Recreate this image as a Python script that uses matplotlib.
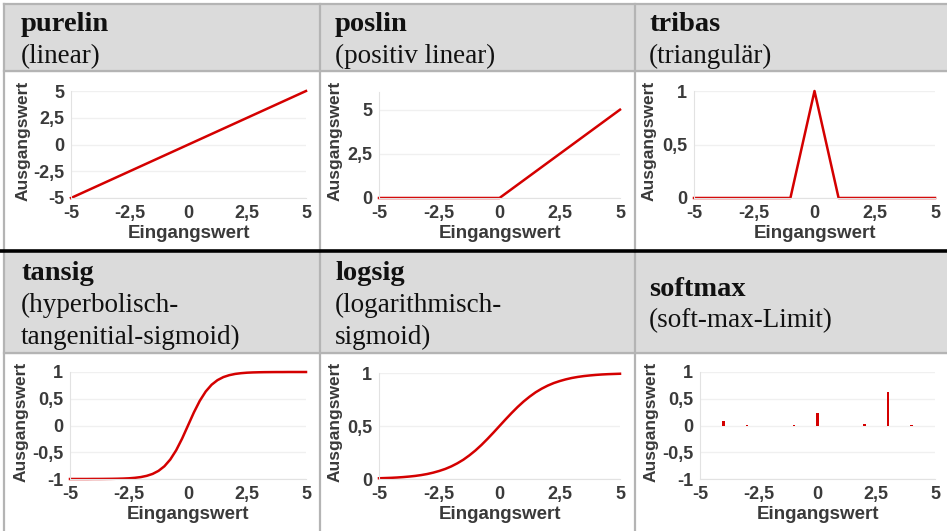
import matplotlib.pyplot as plt
from matplotlib.patches import Rectangle
from matplotlib.lines import Line2D
from matplotlib.ticker import FixedLocator, FuncFormatter

# Daten
x_lin = [-5, 5]
y_purelin = [-5, 5]

x_poslin = [-5, 0, 5]
y_poslin = [0, 0, 5]

x_tribas = [-5, -1, 0, 1, 5]
y_tribas = [0, 0, 1, 0, 0]

x_curve = [-5 + 0.25 * i for i in range(41)]
y_tansig = [-1.0, -1.0, -1.0, -1.0, -0.999, -0.999, -0.998, -0.997, -0.995, -0.992,
            -0.987, -0.978, -0.964, -0.941, -0.905, -0.848, -0.762, -0.635, -0.462, -0.245,
            0.0, 0.245, 0.462, 0.635, 0.762, 0.848, 0.905, 0.941, 0.964, 0.978,
            0.987, 0.992, 0.995, 0.997, 0.998, 0.999, 0.999, 1.0, 1.0, 1.0, 1.0]
y_logsig = [0.007, 0.009, 0.011, 0.014, 0.018, 0.023, 0.029, 0.037, 0.047, 0.060,
            0.076, 0.095, 0.119, 0.148, 0.182, 0.223, 0.269, 0.321, 0.378, 0.438,
            0.5, 0.562, 0.622, 0.679, 0.731, 0.777, 0.818, 0.852, 0.881, 0.905,
            0.924, 0.940, 0.953, 0.963, 0.971, 0.977, 0.982, 0.986, 0.989, 0.991, 0.993]

x_softmax = [-4, -3, -1, 0, 2, 3, 4]
y_softmax = [0.09, 0.01, 0.01, 0.23, 0.03, 0.62, 0.01]

x_ticks = [-5, -2.5, 0, 2.5, 5]

titles = ['purelin', 'poslin', 'tribas', 'tansig', 'logsig', 'softmax']
subtitles = [['(linear)'], ['(positiv linear)'], ['(triangulär)'],
             ['(hyperbolisch-', 'tangenitial-sigmoid)'],
             ['(logarithmisch-', 'sigmoid)'],
             ['(soft-max-Limit)']]

W, H = 947, 531
RED = '#d40000'
GRAY_TXT = '#3a3a3a'


def fx(px):
    return px / W


def fy(py):
    return 1 - py / H


def komma(v, pos):
    s = ('%g' % v).replace('.', ',')
    return s


fig = plt.figure(figsize=(W / 100, H / 100), dpi=100)

# Tabellen-Hintergrund
for top, bottom in [(4, 71), (253, 353)]:
    fig.patches.append(Rectangle((fx(4), fy(bottom)), fx(W - 4), (bottom - top) / H,
                                 transform=fig.transFigure, color='#dbdbdb', zorder=0))
border = '#b4b4b4'
for y in [4, 71, 353]:
    fig.lines.append(Line2D([fx(4), 1], [fy(y), fy(y)], transform=fig.transFigure,
                            color=border, lw=1.6))
for x in [4, 320, 635]:
    fig.lines.append(Line2D([fx(x), fx(x)], [fy(4), 0], transform=fig.transFigure,
                            color=border, lw=1.6))
fig.lines.append(Line2D([0, 1], [fy(251), fy(251)], transform=fig.transFigure,
                        color='black', lw=2.6))

# Kopfzeilen
text_x = [21, 335, 649, 21, 335, 649]
base_y = [31, 31, 31, 280, 280, 296]
for i in range(6):
    fig.text(fx(text_x[i]), fy(base_y[i]), titles[i], fontsize=20.5, fontweight='bold',
             family='Liberation Serif', va='baseline', color='#111111')
    for j, line in enumerate(subtitles[i]):
        fig.text(fx(text_x[i]), fy(base_y[i] + 32 * (j + 1) - (1 if i == 5 else 0)), line,
                 fontsize=19.5, family='Liberation Serif', va='baseline', color='#111111')

# Achsen (links, oben, rechts, unten in Pixel)
boxes = [(71, 91, 306, 198), (379, 92, 620, 198), (694, 91, 935, 198),
         (70, 372, 306, 479), (379, 373, 620, 479), (700, 372, 935, 479)]
ylabel_x = [31, 343, 657, 29, 343, 659]
ylims = [(-5, 5), (0, 6), (0, 1), (-1, 1), (0, 1), (-1, 1)]
yticks = [[-5, -2.5, 0, 2.5, 5], [0, 2.5, 5], [0, 0.5, 1],
          [-1, -0.5, 0, 0.5, 1], [0, 0.5, 1], [-1, -0.5, 0, 0.5, 1]]

axes = []
for i, (l, t, r, b) in enumerate(boxes):
    ax = fig.add_axes([fx(l), fy(b), (r - l) / W, (b - t) / H])
    ax.set_xlim(-5, 5)
    ax.set_ylim(*ylims[i])
    ax.xaxis.set_major_locator(FixedLocator(x_ticks))
    ax.yaxis.set_major_locator(FixedLocator(yticks[i]))
    ax.xaxis.set_major_formatter(FuncFormatter(komma))
    ax.yaxis.set_major_formatter(FuncFormatter(komma))
    ax.tick_params(length=0, labelsize=13, labelcolor=GRAY_TXT, pad=5)
    for lab in ax.get_xticklabels() + ax.get_yticklabels():
        lab.set_fontweight('bold')
        lab.set_family('Liberation Sans')
    for s in ['top', 'right']:
        ax.spines[s].set_visible(False)
    for s in ['left', 'bottom']:
        ax.spines[s].set_color('#e2e2e2')
    ax.grid(axis='y', color='#f0f0f0', lw=1)
    ax.set_axisbelow(True)
    ax.set_xlabel('Eingangswert', fontsize=13.5, fontweight='bold', color=GRAY_TXT,
                  family='Liberation Sans')
    ax.set_ylabel('Ausgangswert', fontsize=12.5, fontweight='bold', color=GRAY_TXT,
                  family='Liberation Sans')
    ax.xaxis.set_label_coords(fx((l + r) / 2), fy(b + 27), transform=fig.transFigure)
    ax.yaxis.set_label_coords(fx(ylabel_x[i]), fy((t + b) / 2 - 4), transform=fig.transFigure)
    axes.append(ax)

# Kurven
axes[0].plot(x_lin, y_purelin, color=RED, lw=1.8, clip_on=False)
axes[1].plot(x_poslin, y_poslin, color=RED, lw=1.8, clip_on=False)
axes[2].plot(x_tribas, y_tribas, color=RED, lw=1.8, clip_on=False)
axes[3].plot(x_curve, y_tansig, color=RED, lw=1.8, clip_on=False)
axes[4].plot(x_curve, y_logsig, color=RED, lw=1.8, clip_on=False)
axes[5].bar(x_softmax, y_softmax, width=0.1, color=RED)

fig.savefig('out.png', dpi=100)
